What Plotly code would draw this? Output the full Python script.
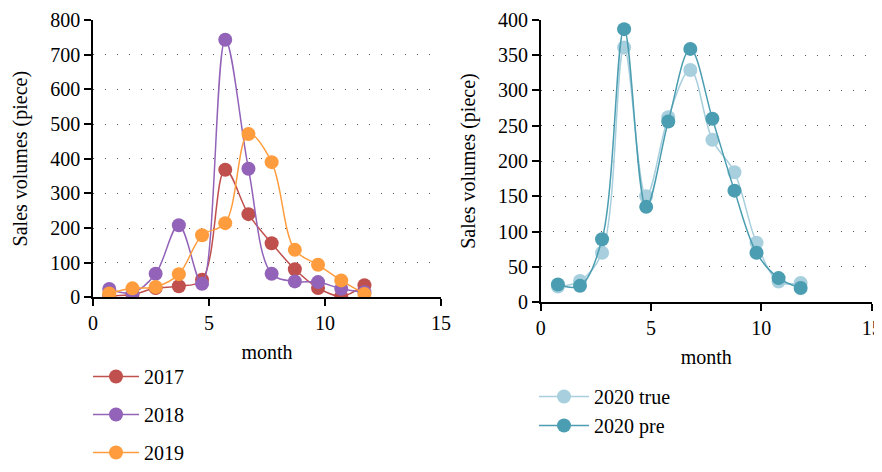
import plotly.graph_objects as go

# ---- data ----
x_left = [0.7, 1.7, 2.7, 3.7, 4.7, 5.7, 6.7, 7.7, 8.7, 9.7, 10.7, 11.7]
x_right = [0.78, 1.78, 2.78, 3.78, 4.78, 5.78, 6.78, 7.78, 8.78, 9.78, 10.78, 11.78]

s2017 = [5, 8, 27, 32, 51, 368, 240, 156, 81, 27, 3, 35]
s2018 = [24, 13, 68, 208, 39, 743, 371, 68, 46, 44, 25, 15]
s2019 = [11, 26, 30, 67, 179, 214, 471, 390, 137, 94, 49, 10]

s2020_true = [22, 30, 70, 361, 150, 262, 329, 230, 184, 84, 29, 27]
s2020_pre = [25, 23, 89, 387, 135, 256, 359, 260, 158, 70, 34, 20]

left_names = ["2017", "2018", "2019"]
left_colors = ["#C0504D", "#9263B8", "#FF9D3E"]
right_names = ["2020 true", "2020 pre"]
right_colors = ["#A7CFDD", "#4B9DB1"]

FONT = "Liberation Serif"
FS = 20
W, H = 874, 464  # page body adds an 8px margin

fig = go.Figure()

for name, ys, col in zip(left_names, [s2017, s2018, s2019], left_colors):
    fig.add_trace(go.Scatter(
        x=x_left, y=ys, name=name, mode="lines+markers",
        line=dict(color=col, width=1.5, shape="spline", smoothing=1),
        marker=dict(color=col, size=14),
        xaxis="x", yaxis="y", legend="legend", legendgroup=name,
    ))

for name, ys, col in zip(right_names, [s2020_true, s2020_pre], right_colors):
    fig.add_trace(go.Scatter(
        x=x_right, y=ys, name=name, mode="lines+markers",
        line=dict(color=col, width=1.5, shape="spline", smoothing=1),
        marker=dict(color=col, size=14),
        xaxis="x2", yaxis="y2", legend="legend2",
    ))

axis_common = dict(
    showline=True, linecolor="black", linewidth=1.5,
    ticks="outside", ticklen=7, tickwidth=1.5, tickcolor="black",
    tickfont=dict(family=FONT, size=FS, color="black"),
    zeroline=False, automargin=False,
)

fig.update_layout(
    width=W, height=H,
    margin=dict(l=0, r=0, t=0, b=0),
    paper_bgcolor="white", plot_bgcolor="white",
    font=dict(family=FONT, size=FS, color="black"),
    xaxis=dict(domain=[85/W, 433/W], range=[0, 15], tickvals=[0, 5, 10, 15],
               showgrid=False, anchor="y",
               title=dict(text="month", font=dict(family=FONT, size=FS), standoff=12),
               **axis_common),
    yaxis=dict(domain=[1-290/H, 1-12/H], range=[0, 800], dtick=100,
               showgrid=True, gridcolor="#555555", gridwidth=1, griddash="1px,11px",
               anchor="x",
               title=dict(text="Sales volumes (piece)", font=dict(family=FONT, size=FS), standoff=17),
               **axis_common),
    xaxis2=dict(domain=[532.7/W, 863.7/W], range=[0, 15], tickvals=[0, 5, 10, 15],
                showgrid=False, anchor="y2",
                title=dict(text="month", font=dict(family=FONT, size=FS), standoff=12),
                **axis_common),
    yaxis2=dict(domain=[1-294.7/H, 1-12/H], range=[0, 400], dtick=50,
                showgrid=True, gridcolor="#555555", gridwidth=1, griddash="1px,11px",
                anchor="x2",
                title=dict(text="Sales volumes (piece)", font=dict(family=FONT, size=FS), standoff=17),
                **axis_common),
    legend=dict(x=80/W, y=1-350/H, xanchor="left", yanchor="top",
                orientation="v", font=dict(family=FONT, size=FS),
                bgcolor="rgba(0,0,0,0)", tracegroupgap=9, itemwidth=46),
    legend2=dict(x=526/W, y=1-369/H, xanchor="left", yanchor="top",
                 orientation="v", font=dict(family=FONT, size=FS),
                 bgcolor="rgba(0,0,0,0)", itemwidth=50),
)

fig.write_html("out.html")
